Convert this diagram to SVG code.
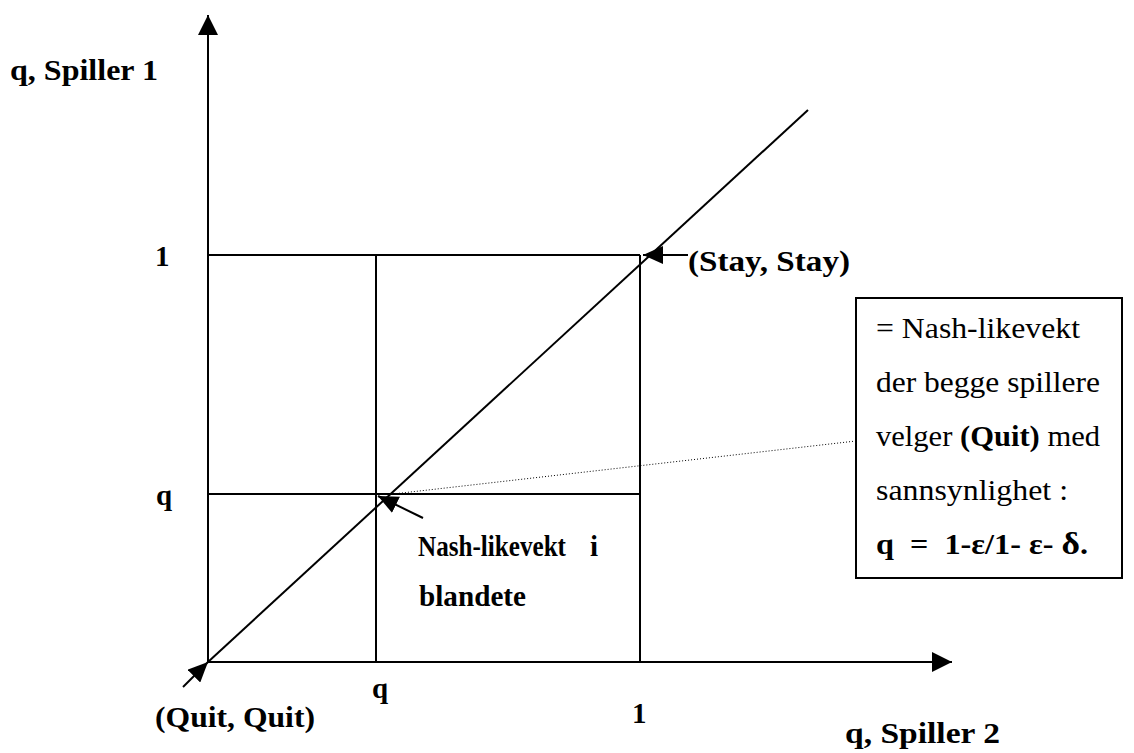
<svg xmlns="http://www.w3.org/2000/svg" width="1134" height="753" viewBox="0 0 1134 753">
<style>
.ln{stroke:#000;stroke-width:2;fill:none}
.b{font-family:"Liberation Serif","Times New Roman",serif;font-weight:bold;font-size:29px;fill:#000;white-space:pre}
.r{font-family:"Liberation Serif","Times New Roman",serif;font-size:29px;fill:#000;white-space:pre}
</style>
<defs>
<marker id="arr" viewBox="0 0 20 20" refX="20" refY="10" markerWidth="20" markerHeight="20" markerUnits="userSpaceOnUse" orient="auto"><path d="M0,0 L20,10 L0,20 z" fill="#000"/></marker>
<marker id="arrs" viewBox="0 0 20 18" refX="20" refY="9" markerWidth="20" markerHeight="18" markerUnits="userSpaceOnUse" orient="auto"><path d="M0,0 L20,9 L0,18 z" fill="#000"/></marker>
</defs>
<rect width="1134" height="753" fill="#fff"/>
<g id="grid">
<line class="ln" x1="208" y1="255" x2="640" y2="255"/>
<line class="ln" x1="208" y1="494" x2="640" y2="494"/>
<line class="ln" x1="376" y1="255" x2="376" y2="662"/>
<line class="ln" x1="640" y1="255" x2="640" y2="662"/>
<line class="ln" x1="208" y1="662" x2="808" y2="110"/>
</g>
<g id="connectors">
<line class="ln" x1="208" y1="662" x2="208" y2="15" marker-end="url(#arr)"/>
<line class="ln" x1="208" y1="662" x2="952" y2="662" marker-end="url(#arr)"/>
<line class="ln" x1="688" y1="255" x2="643" y2="255" marker-end="url(#arrs)"/>
<line class="ln" x1="423" y1="518" x2="378" y2="496" marker-end="url(#arrs)"/>
<line class="ln" x1="183" y1="687" x2="208" y2="662" marker-end="url(#arrs)"/>
<line x1="393" y1="494" x2="856" y2="441" stroke="#000" stroke-width="1" stroke-dasharray="1,2"/>
</g>
<g id="labels">
<text class="b" x="10" y="80" textLength="148" lengthAdjust="spacingAndGlyphs">q, Spiller 1</text>
<text class="b" x="155" y="266">1</text>
<text class="b" x="156" y="505">q</text>
<text class="b" x="688" y="271" textLength="162" lengthAdjust="spacingAndGlyphs">(Stay, Stay)</text>
<text class="b" x="418" y="556" textLength="148" lengthAdjust="spacingAndGlyphs">Nash-likevekt</text>
<text class="b" x="590" y="556">i</text>
<text class="b" x="419" y="606" textLength="107" lengthAdjust="spacingAndGlyphs">blandete</text>
<text class="b" x="372" y="698">q</text>
<text class="b" x="632" y="723">1</text>
<text class="b" x="155" y="727" textLength="160" lengthAdjust="spacingAndGlyphs">(Quit, Quit)</text>
<text class="b" x="845" y="743" textLength="155" lengthAdjust="spacingAndGlyphs">q, Spiller 2</text>
</g>
<g id="infobox">
<rect x="856" y="298" width="266" height="280" fill="none" stroke="#000" stroke-width="2"/>
<text class="r" x="876" y="338" textLength="204" lengthAdjust="spacingAndGlyphs">= Nash-likevekt</text>
<text class="r" x="876" y="392" textLength="224" lengthAdjust="spacingAndGlyphs">der begge spillere</text>
<text class="r" x="876" y="446" textLength="224" lengthAdjust="spacingAndGlyphs">velger <tspan font-weight="bold">(Quit)</tspan> med</text>
<text class="r" x="876" y="500" textLength="192" lengthAdjust="spacingAndGlyphs">sannsynlighet :</text>
<text class="b" x="876" y="554" textLength="212" lengthAdjust="spacingAndGlyphs">q  =  1-ε/1- ε- <tspan font-size="32">δ</tspan>.</text>
</g>
</svg>
